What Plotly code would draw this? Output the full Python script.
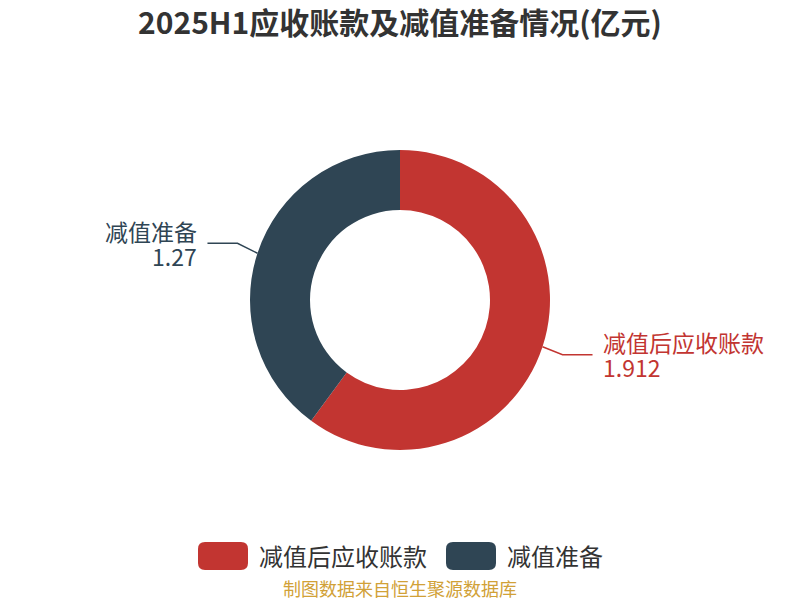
import math
import plotly.graph_objects as go

# data
labels = ["减值后应收账款", "减值准备"]
values = [1.912, 1.27]
colors = ["#c23531", "#2f4554"]

title = "2025H1应收账款及减值准备情况(亿元)"
source = "制图数据来自恒生聚源数据库"
font_cn = "Noto Sans CJK SC, Microsoft YaHei, sans-serif"

W, H = 800, 600
cx, cy, r = 400, 300, 150

fig = go.Figure()
fig.add_trace(go.Pie(
    labels=labels, values=values, hole=0.6, sort=False,
    direction="clockwise", rotation=0,
    marker=dict(colors=colors, line=dict(width=0)),
    textinfo="none", hoverinfo="label+value+percent",
    domain=dict(x=[(cx - r) / W, (cx + r) / W], y=[(cy - r) / H, (cy + r) / H]),
    showlegend=False,
))

# outside labels with elbow leader lines, placed from slice mid angles
shapes = []
annotations = []
total = sum(values)
start = 0.0
for lab, val, col in zip(labels, values, colors):
    mid = start + val / total * 360 / 2
    start += val / total * 360
    a = math.radians(mid)
    sx, sy = cx + r * math.sin(a), cy - r * math.cos(a)
    side = 1 if math.sin(a) >= 0 else -1
    ex, ey = sx + side * 20, sy + (8 if math.cos(a) < 0 else -10)
    hx = ex + side * 30
    path = "M {} {} L {} {} L {} {}".format(
        sx / W, 1 - sy / H, ex / W, 1 - ey / H, hx / W, 1 - ey / H)
    shapes.append(dict(type="path", xref="paper", yref="paper", path=path,
                       line=dict(color=col, width=1.5)))
    for txt, dy in ((lab, -12.5), (f"{val:g}", 12.5)):
        annotations.append(dict(
            x=(hx + side * 8) / W, y=1 - (ey + dy) / H, xref="paper", yref="paper",
            text=txt, showarrow=False,
            xanchor="left" if side > 0 else "right", yanchor="middle",
            font=dict(family=font_cn, size=23, color=col)))

# custom legend with rounded swatches
def rounded_rect(x0, y0, x1, y1, rr):
    def P(x, y):
        return f"{x / W} {1 - y / H}"
    return ("M " + P(x0 + rr, y0) + " L " + P(x1 - rr, y0) + " Q " + P(x1, y0) + " " + P(x1, y0 + rr)
            + " L " + P(x1, y1 - rr) + " Q " + P(x1, y1) + " " + P(x1 - rr, y1)
            + " L " + P(x0 + rr, y1) + " Q " + P(x0, y1) + " " + P(x0, y1 - rr)
            + " L " + P(x0, y0 + rr) + " Q " + P(x0, y0) + " " + P(x0 + rr, y0) + " Z")

legend_x = [198, 446]
for lx, lab, col in zip(legend_x, labels, colors):
    shapes.append(dict(type="path", xref="paper", yref="paper",
                       path=rounded_rect(lx, 542, lx + 50, 570, 7),
                       fillcolor=col, line=dict(width=0)))
    annotations.append(dict(x=(lx + 59) / W, y=1 - 555 / H, xref="paper", yref="paper",
                            text=lab, showarrow=False, xanchor="left", yanchor="middle",
                            font=dict(family=font_cn, size=24, color="#333333")))

annotations.append(dict(x=0.5, y=1 - 588 / H, xref="paper", yref="paper", text=source,
                        showarrow=False, xanchor="center", yanchor="middle",
                        font=dict(family=font_cn, size=18, color="#d1a137")))

fig.update_layout(
    width=W, height=H,
    margin=dict(l=0, r=0, t=0, b=0),
    paper_bgcolor="white", plot_bgcolor="white",
    title=dict(text=f"<b>{title}</b>", x=0.5, xanchor="center", y=1 - 23 / H, yanchor="middle",
               font=dict(family=font_cn, size=30, color="#333333")),
    shapes=shapes, annotations=annotations,
)

fig.write_html("out.html", config={"displayModeBar": False},
               post_script="document.body.style.margin='0';")
